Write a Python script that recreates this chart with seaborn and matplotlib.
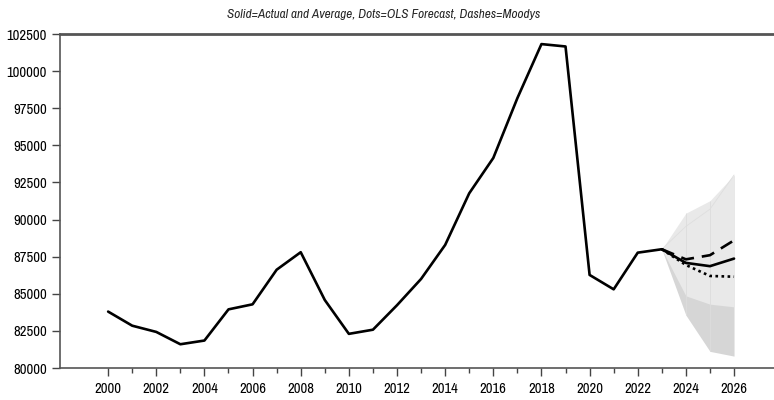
import numpy as np
import pandas as pd
import matplotlib
matplotlib.use("Agg")
import matplotlib.pyplot as plt
from matplotlib import font_manager
import seaborn as sns

# actual series
years = list(range(2000, 2024))
actual = [83800, 82850, 82430, 81600, 81850, 83950, 84290, 86620, 87800, 84580,
          82300, 82580, 84230, 86000, 88290, 91770, 94150, 98180, 101820, 101660,
          86270, 85300, 87770, 88000]

# forecasts (start at last actual year)
fc_years = [2023, 2024, 2025, 2026]
average = [88000, 87080, 86860, 87370]
ols = [88000, 86940, 86200, 86150]
moodys = [88000, 87320, 87600, 88600]

# shaded ranges
dark_low = [88000, 83560, 81120, 80800]
light_low = [88000, 84860, 84300, 84120]
light_high = [88000, 90430, 91270, 93000]
inner_high = [88000, 89540, 90700, 93000]

sns.set_style("ticks")

# look for a narrow face, like the reference
names = sorted({f.name for f in font_manager.fontManager.ttflist})
narrow = [n for n in names if "Narrow" in n or "Condensed" in n]
fam = narrow[0] if narrow else "Liberation Sans"
plt.rcParams['font.family'] = [fam, 'DejaVu Sans']

fig = plt.figure(figsize=(7.74, 4.0), dpi=100)
ax = fig.add_axes([0.0775, 0.08, 0.9225, 0.835])

ax.fill_between(fc_years, dark_low, inner_high, color="#d6d6d6", lw=0)
ax.fill_between(fc_years, light_low, light_high, color="#e9e9e9", lw=0)
ax.plot(fc_years, inner_high, color="#dedede", lw=0.6)
ax.vlines(fc_years[1:3], [dark_low[1], dark_low[2]], [light_high[1], light_high[2]],
          color="#dddddd", lw=0.6)

df_act = pd.DataFrame({"year": years, "value": actual})
sns.lineplot(data=df_act, x="year", y="value", ax=ax, color="black", lw=1.9)
df_fc = pd.DataFrame({"year": fc_years, "avg": average, "ols": ols, "moodys": moodys})
sns.lineplot(data=df_fc, x="year", y="avg", ax=ax, color="black", lw=1.9)
sns.lineplot(data=df_fc, x="year", y="ols", ax=ax, color="black", lw=1.9,
             linestyle=(0, (1, 1.3)))
sns.lineplot(data=df_fc, x="year", y="moodys", ax=ax, color="black", lw=1.9,
             linestyle=(0, (5, 3)))

ax.set_xlim(1998, 2027.66)
ax.set_ylim(80000, 102500)
ax.set_yticks(np.arange(80000, 102501, 2500))
ax.set_xticks(range(2000, 2027, 2))
ax.set_xticks(range(2001, 2027, 2), minor=True)
ax.tick_params(axis="both", which="major", direction="out", length=6, width=1,
               color="#444444", labelsize=10.5, labelcolor="black")
ax.tick_params(axis="x", which="minor", direction="out", length=3.5, width=1,
               color="#444444")
ax.tick_params(axis="x", pad=4)
for s in ["left", "top", "bottom"]:
    ax.spines[s].set_color("#555555")
    ax.spines[s].set_linewidth(1.2)
ax.spines["top"].set_linewidth(2)
ax.spines["right"].set_visible(False)
ax.set_xlabel("")
ax.set_ylabel("")
fig.text(0.495, 0.965, "Solid=Actual and Average, Dots=OLS Forecast, Dashes=Moodys",
         fontsize=9.5, style="italic", ha="center", va="center")

fig.savefig("out.png", dpi=100)
